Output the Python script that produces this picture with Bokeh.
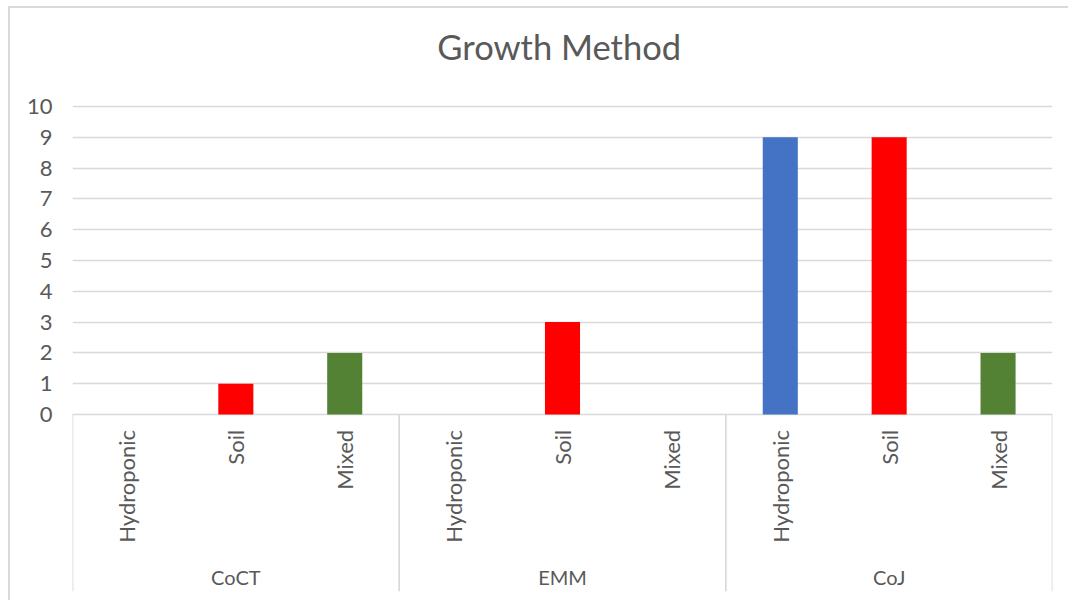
from bokeh.plotting import figure
from bokeh.models import Range1d, FixedTicker
from bokeh.core.properties import value
from bokeh.embed import file_html
from bokeh.resources import INLINE
import math

# ---- data ----
title = "Growth Method"
groups = ["CoCT", "EMM", "CoJ"]
methods = ["Hydroponic", "Soil", "Mixed"]
hydroponic = [0, 0, 9]
soil = [1, 3, 9]
mixed = [2, 0, 2]
y_ticks = [0, 1, 2, 3, 4, 5, 6, 7, 8, 9, 10]
colors = {"Hydroponic": "#4472C4", "Soil": "#FF0000", "Mixed": "#548235"}

FONT = "Lato"
TXT = "#595959"
GRID = "#d9d9d9"

series = {"Hydroponic": hydroponic, "Soil": soil, "Mixed": mixed}
n_m = len(methods)
Y_MIN, Y_MAX = -5.747, 13.117

p = figure(width=1060, height=594, output_backend="svg", toolbar_location=None,
           x_range=Range1d(0, len(groups) * n_m), y_range=Range1d(Y_MIN, Y_MAX),
           min_border_left=62, min_border_right=18, min_border_top=2, min_border_bottom=11)
p.margin = (6, 0, 0, 8)
p.styles = {"border-top": "2px solid #d9d9d9", "border-left": "2px solid #d9d9d9"}
p.outline_line_color = None
p.background_fill_color = "white"
p.border_fill_color = "white"

# title (drawn in plot space above the value area)
p.text(x=[len(groups) * n_m / 2 - 0.03], y=[11.95], text=[title], text_align="center",
       text_baseline="middle", text_font=value(FONT), text_font_size="34.5px", text_color=TXT)

# bars
xs, tops, cols = [], [], []
for gi, g in enumerate(groups):
    for mi, m in enumerate(methods):
        xs.append(gi * n_m + mi + 0.5)
        tops.append(series[m][gi])
        cols.append(colors[m])
p.vbar(x=xs, top=tops, bottom=0, width=0.322, fill_color=cols, line_color=None)

# y axis
p.yaxis.ticker = FixedTicker(ticks=y_ticks)
p.yaxis.axis_line_color = None
p.yaxis.major_tick_line_color = None
p.yaxis.minor_tick_line_color = None
p.yaxis.major_tick_out = 0
p.yaxis.major_label_standoff = 20
p.yaxis.major_label_text_font = FONT
p.yaxis.major_label_text_font_size = "22px"
p.yaxis.major_label_text_color = TXT
p.xaxis.visible = False

p.ygrid.ticker = FixedTicker(ticks=y_ticks)
p.ygrid.grid_line_color = GRID
p.ygrid.grid_line_width = 1.7
p.xgrid.grid_line_color = None

# separators between groups
seps = [i * n_m for i in range(len(groups) + 1)]
p.segment(x0=seps, y0=[0] * len(seps), x1=seps, y1=[Y_MIN] * len(seps),
          line_color=GRID, line_width=1.7)

# category labels
lab_x = [gi * n_m + mi + 0.5 for gi in range(len(groups)) for mi in range(n_m)]
lab_t = [m for _ in groups for m in methods]
p.text(x=lab_x, y=[-0.5] * len(lab_x), text=lab_t, angle=math.pi / 2,
       text_align="right", text_baseline="middle",
       text_font=value(FONT), text_font_size="22px", text_color=TXT)

# group labels
gx = [gi * n_m + n_m / 2 for gi in range(len(groups))]
p.text(x=gx, y=[-5.26] * len(gx), text=groups, text_align="center", text_baseline="middle",
       text_font=value(FONT), text_font_size="20px", text_color=TXT)

open("out.html", "w").write(file_html(p, INLINE))
